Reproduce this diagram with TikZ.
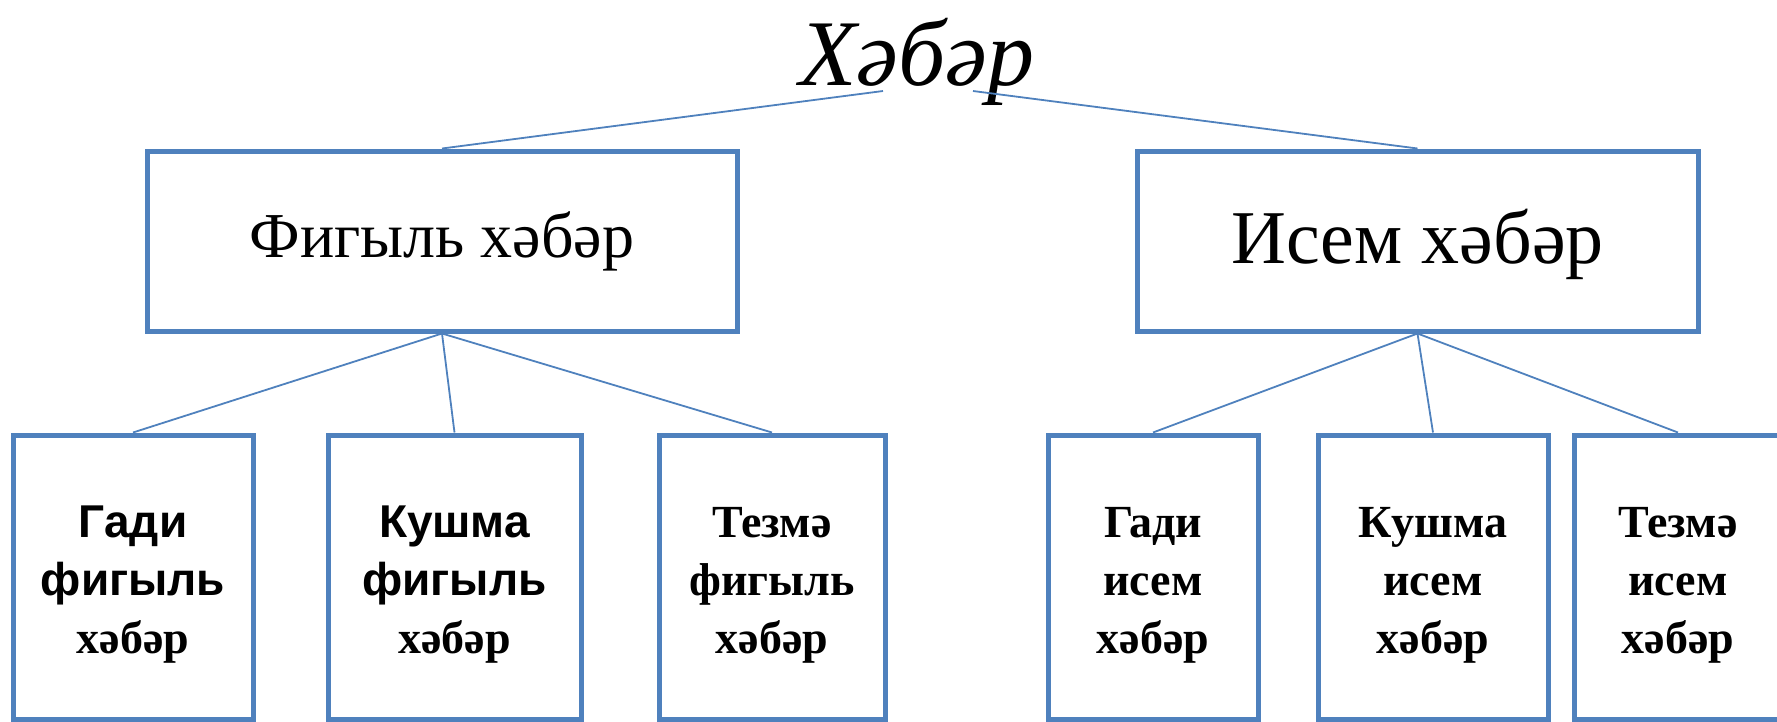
\documentclass[tikz,border=0pt]{standalone}
\usepackage{fontspec}
\setmainfont{Liberation Serif}
\newfontfamily\arialfont{Liberation Sans}
\definecolor{boxblue}{HTML}{4F81BD}
\newcommand{\lift}[1]{\rule{0pt}{#1}}
\tikzset{
	box/.style={draw=boxblue, line width=5pt, inner sep=0pt, align=center},
	conn/.style={draw=boxblue, line width=1.8pt},
	small/.style={font=\fontsize{46}{58}\selectfont\bfseries}
}
\begin{document}
\begin{tikzpicture}[x=1pt, y=-1pt]
	\clip (0,0) rectangle (1777,721);

\node (xeber) [anchor=base] at (917,85) {\fontsize{94}{110}\selectfont\itshape Хәбәр};
\coordinate (tl) at (883,91);  \coordinate (tr) at (973,91);

\node (fig) [box, minimum width=590pt, minimum height=180pt] at (442,241) {\fontsize{64}{70}\selectfont Фигыль хәбәр};
\node (isem) [box, minimum width=561pt, minimum height=180pt] at (1417.5,241) {\fontsize{76}{80}\selectfont\lift{61pt}Исем хәбәр};

\node (gfig) [box, small, minimum width=240pt, minimum height=284pt] at (133,577) {\lift{47pt}{\arialfont Гади}\\{\arialfont фигыль}\\хәбәр};
\node (kfig) [box, small, minimum width=253pt, minimum height=284pt] at (454.5,577) {\lift{47pt}{\arialfont Кушма}\\{\arialfont фигыль}\\хәбәр};
\node (tfig) [box, small, minimum width=226pt, minimum height=284pt] at (772,577) {\lift{47pt}Тезмә\\фигыль\\хәбәр};

\node (gisem) [box, small, minimum width=210pt, minimum height=284pt] at (1153,577) {\lift{47pt}Гади\\исем\\хәбәр};
\node (kisem) [box, small, minimum width=230pt, minimum height=284pt] at (1433,577) {\lift{47pt}Кушма\\исем\\хәбәр};
\node (tisem) [box, small, minimum width=208pt, minimum height=284pt] at (1678,577) {\lift{47pt}Тезмә\\исем\\хәбәр};

\draw [conn] (tl)--(fig.north);
\draw [conn] (tr)--(isem.north);
\draw [conn] (fig.south)--(gfig.north);  \draw [conn] (fig.south)--(kfig.north);  \draw [conn] (fig.south)--(tfig.north);
\draw [conn] (isem.south)--(gisem.north);  \draw [conn] (isem.south)--(kisem.north);  \draw [conn] (isem.south)--(tisem.north);

	\end{tikzpicture}
\end{document}
